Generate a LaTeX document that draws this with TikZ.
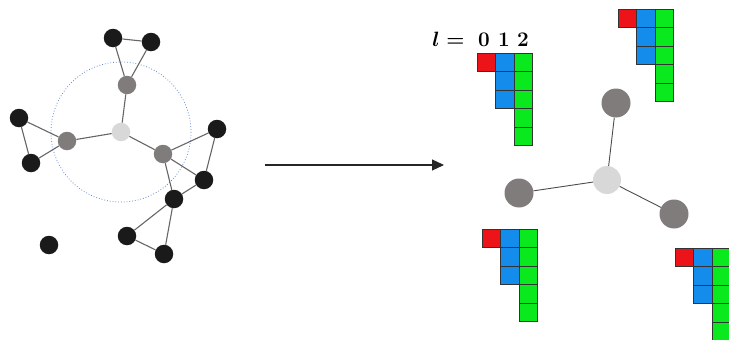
\documentclass[tikz,border=0pt]{standalone}
\usepackage{amsmath}
\usepackage{amssymb}
\usetikzlibrary{arrows.meta}

\definecolor{cred}{RGB}{236,20,24}
\definecolor{cblue}{RGB}{20,140,235}
\definecolor{cgreen}{RGB}{10,232,30}
\definecolor{cgray}{RGB}{128,124,124}
\definecolor{clight}{RGB}{216,216,216}
\definecolor{cblack}{RGB}{26,26,26}
\definecolor{cring}{RGB}{95,135,210}

\begin{document}
\begin{tikzpicture}[x=1pt,y=-1pt,
    blk/.style={circle,fill=cblack,inner sep=0pt,minimum size=18.5pt},
    gry/.style={circle,fill=cgray,inner sep=0pt,minimum size=18.5pt},
    lgt/.style={circle,fill=clight,inner sep=0pt,minimum size=18.5pt},
    biggry/.style={circle,fill=cgray,inner sep=0pt,minimum size=29pt},
    biglgt/.style={circle,fill=clight,inner sep=0pt,minimum size=28pt},
    link/.style={draw=black!60,line width=1.1pt},
    cellbox/.style={draw=black!80,line width=0.6pt},
    deg/.style={anchor=base,font=\huge\bfseries}]
  \useasboundingbox (0,0) rectangle (729,340);
  % the neighbourhood on the left
  \node[lgt] (c) at (121,132) {};
  \draw[cring,dotted,line width=0.8pt] (c) circle (70);
  \node[gry] (gt) at (127,85) {};
  \node[gry] (gl) at (67,141) {};
  \node[gry] (gr) at (163,154) {};
  \node[blk] (ta) at (113,38) {};
  \node[blk] (tb) at (151,42) {};
  \node[blk] (la) at (19,118) {};
  \node[blk] (lb) at (31,163) {};
  \node[blk] (ra) at (217,129) {};
  \node[blk] (rb) at (204,180) {};
  \node[blk] (m) at (174,199) {};
  \node[blk] (ba) at (127,236) {};
  \node[blk] (bb) at (164,254) {};
  \node[blk] (iso) at (49,245) {};
  \draw[link] (ta) -- (tb) (ta) -- (gt) (tb) -- (gt) (gt) -- (c);
  \draw[link] (c) -- (gl) (c) -- (gr);
  \draw[link] (gl) -- (la) (gl) -- (lb) (la) -- (lb);
  \draw[link] (gr) -- (ra) (gr) -- (rb) (ra) -- (rb);
  \draw[link] (gr) -- (m) (rb) -- (m) (m) -- (ba) (m) -- (bb) (ba) -- (bb);
  % the map
  \coordinate (from) at (265,165);
  \coordinate (to) at (444,165);
  \draw[line width=1.2pt,black!85,-{Triangle[length=12pt,width=11pt]}] (from) -- (to);
  % the star on the right
  \node[biglgt] (C) at (607,180) {};
  \node[biggry] (T) at (616,103) {};
  \node[biggry] (L) at (519,193) {};
  \node[biggry] (R) at (674,214) {};
  \draw[black!70,line width=0.9pt] (C) -- (T) (C) -- (L) (C) -- (R);
  % the features, one per node
  \foreach \tx/\ty in {477/53, 618/9, 482/229, 675/248} {
    \begin{scope}[shift={(\tx,\ty)}]
      \draw[cellbox,fill=cred] (0,0) rectangle (18.5,18.5);
      \foreach \i in {0,1,2}
        \draw[cellbox,fill=cblue] (18.5,18.5*\i) rectangle (37,18.5*\i+18.5);
      \foreach \i in {0,...,4}
        \draw[cellbox,fill=cgreen] (37,18.5*\i) rectangle (55.5,18.5*\i+18.5);
    \end{scope}
  }
  % degrees
  \node[anchor=base east,font=\huge] (lab) at (468,46) {$\boldsymbol{l=}$};
  \node[deg] (d0) at (484,46) {0};
  \node[deg] (d1) at (504,46) {1};
  \node[deg] (d2) at (523,46) {2};
\end{tikzpicture}
\end{document}
